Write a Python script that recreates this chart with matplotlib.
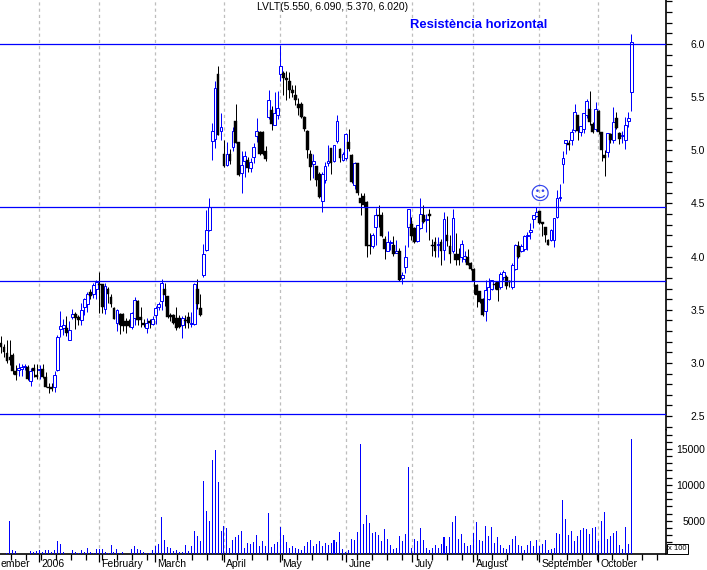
import numpy as np
import matplotlib
matplotlib.use('Agg')
import matplotlib.pyplot as plt

plt.rcParams['font.family'] = ['Liberation Sans', 'DejaVu Sans']

title = 'LVLT(5.550, 6.090, 5.370, 6.020)'
note = 'Resistència horizontal'

opens = [3.19,3.15,3.09,3.06,3.07,2.92,2.93,2.94,2.96,2.96,
         2.83,2.95,2.89,2.93,2.94,2.87,2.77,2.77,2.77,2.93,
         3.32,3.33,3.33,3.22,3.43,3.46,3.43,3.40,3.53,3.55,
         3.67,3.65,3.70,3.74,3.74,3.51,3.70,3.62,3.52,3.38,
         3.46,3.46,3.39,3.39,3.34,3.42,3.58,3.43,3.38,3.33,
         3.39,3.37,3.45,3.53,3.58,3.70,3.63,3.45,3.45,3.42,
         3.42,3.36,3.40,3.43,3.37,3.37,3.70,3.52,3.83,4.06,
         4.25,5.09,5.11,5.72,5.18,4.97,4.86,4.97,5.03,5.28,
         5.08,4.79,4.90,4.91,4.83,4.94,5.13,5.17,5.17,4.99,
         5.31,5.38,5.24,5.33,5.72,5.73,5.68,5.65,5.57,5.52,
         5.44,5.44,5.31,5.18,4.97,4.87,4.85,4.78,4.52,4.72,
         4.88,5.02,4.90,5.09,5.01,4.91,4.93,5.08,4.96,4.67,
         4.88,4.55,4.57,4.51,4.11,4.10,4.28,4.39,4.39,4.17,
         4.05,4.13,4.11,4.03,4.05,3.80,3.90,4.28,4.31,4.27,
         4.15,4.27,4.39,4.34,4.40,4.11,4.14,4.11,4.14,4.06,
         4.20,4.10,4.05,4.02,4.02,4.00,3.98,4.00,3.94,3.88,
         3.73,3.68,3.60,3.49,3.60,3.70,3.74,3.76,3.71,3.81,
         3.81,3.77,3.71,3.88,4.10,4.05,4.07,4.19,4.23,4.35,
         4.38,4.43,4.33,4.28,4.16,4.16,4.16,4.37,4.55,4.87,
         5.07,5.07,5.10,5.19,5.33,5.17,5.20,5.33,5.39,5.25,
         5.20,5.37,5.17,4.96,4.98,5.15,5.10,5.30,5.16,5.13,
         5.10,5.28,5.55]
highs = [3.25,3.18,3.22,3.22,3.09,2.98,3.00,2.99,2.99,2.98,
         2.95,2.99,2.99,2.98,2.99,2.91,2.81,2.81,2.92,3.26,
         3.49,3.41,3.44,3.39,3.51,3.48,3.45,3.56,3.61,3.67,
         3.70,3.75,3.78,3.86,3.74,3.75,3.71,3.65,3.53,3.51,
         3.47,3.47,3.42,3.41,3.48,3.62,3.59,3.53,3.41,3.42,
         3.41,3.44,3.54,3.57,3.79,3.75,3.63,3.47,3.46,3.53,
         3.45,3.44,3.45,3.48,3.48,3.75,3.79,3.65,4.12,4.44,
         4.55,5.26,5.65,5.79,5.35,5.10,5.08,5.01,5.22,5.44,
         5.08,4.99,4.99,4.94,4.93,5.07,5.30,5.18,5.18,5.04,
         5.57,5.42,5.55,5.56,5.99,5.75,5.75,5.74,5.61,5.61,
         5.49,5.45,5.32,5.19,5.00,4.97,4.85,4.80,4.80,4.89,
         5.05,5.02,5.05,5.33,5.02,4.98,5.16,5.20,4.97,4.89,
         4.88,4.60,4.60,4.52,4.22,4.22,4.46,4.49,4.42,4.19,
         4.24,4.16,4.19,4.16,4.08,3.86,4.11,4.45,4.37,4.28,
         4.30,4.55,4.49,4.40,4.45,4.17,4.18,4.18,4.17,4.42,
         4.38,4.20,4.45,4.22,4.08,4.16,4.05,4.07,3.95,3.89,
         3.74,3.68,3.61,3.78,3.80,3.78,3.76,3.77,3.86,3.87,
         3.83,3.78,3.94,4.12,4.15,4.12,4.20,4.23,4.32,4.39,
         4.47,4.43,4.33,4.28,4.17,4.26,4.36,4.63,4.68,4.99,
         5.10,5.10,5.20,5.44,5.33,5.23,5.35,5.48,5.56,5.27,
         5.45,5.38,5.17,5.00,5.16,5.16,5.41,5.36,5.17,5.18,
         5.31,5.36,6.09]
lows = [3.09,3.06,3.00,2.98,2.90,2.84,2.88,2.88,2.93,2.84,
        2.78,2.87,2.85,2.85,2.86,2.77,2.72,2.74,2.73,2.92,
        3.24,3.26,3.25,3.22,3.41,3.32,3.36,3.36,3.45,3.48,
        3.60,3.61,3.60,3.47,3.47,3.46,3.56,3.53,3.41,3.30,
        3.27,3.30,3.28,3.34,3.32,3.36,3.36,3.34,3.34,3.28,
        3.33,3.36,3.37,3.50,3.50,3.54,3.42,3.39,3.37,3.31,
        3.33,3.23,3.33,3.33,3.34,3.36,3.51,3.44,3.81,4.05,
        4.24,4.91,5.02,5.14,5.10,4.84,4.85,4.87,4.99,5.07,
        4.76,4.60,4.75,4.80,4.80,4.88,5.08,4.96,4.96,4.90,
        5.29,5.19,5.24,5.29,5.65,5.52,5.47,5.49,5.50,5.43,
        5.33,5.30,5.18,4.93,4.72,4.74,4.66,4.55,4.42,4.69,
        4.85,4.78,4.89,5.07,4.89,4.90,4.91,4.99,4.69,4.64,
        4.58,4.39,4.47,4.00,4.02,4.08,4.11,4.28,4.18,3.98,
        4.05,4.06,4.01,4.04,3.77,3.74,3.85,4.09,4.16,4.13,
        4.14,4.26,4.32,4.23,4.16,4.01,4.00,4.00,3.92,3.97,
        4.10,3.94,4.03,3.92,3.92,3.95,3.95,3.92,3.87,3.65,
        3.53,3.56,3.44,3.39,3.59,3.69,3.70,3.58,3.70,3.78,
        3.70,3.71,3.70,3.87,3.99,4.04,4.05,4.06,4.17,4.27,
        4.37,4.31,4.19,4.14,4.11,4.15,4.09,4.36,4.52,4.69,
        4.97,5.00,5.05,5.17,5.10,5.13,5.16,5.30,5.24,5.16,
        5.18,5.15,4.90,4.76,4.94,5.07,5.07,5.20,5.06,5.07,
        5.01,5.22,5.37]
closes = [3.15,3.10,3.02,3.03,2.92,2.89,2.95,2.96,2.97,2.85,
          2.92,2.92,2.87,2.94,2.87,2.77,2.765,2.75,2.89,3.24,
          3.35,3.36,3.28,3.31,3.46,3.42,3.40,3.50,3.60,3.65,
          3.63,3.73,3.76,3.73,3.53,3.72,3.65,3.55,3.41,3.50,
          3.36,3.35,3.35,3.35,3.47,3.59,3.40,3.40,3.36,3.38,
          3.38,3.41,3.52,3.55,3.75,3.64,3.43,3.43,3.38,3.33,
          3.34,3.42,3.39,3.38,3.38,3.74,3.55,3.45,4.02,4.25,
          4.47,5.18,5.59,5.14,5.22,4.85,4.97,4.90,5.18,5.07,
          4.77,4.86,4.95,4.83,4.89,5.03,5.18,4.97,4.97,4.92,
          5.47,5.25,5.35,5.40,5.79,5.68,5.66,5.57,5.54,5.47,
          5.40,5.31,5.20,5.00,4.84,4.90,4.72,4.56,4.78,4.85,
          4.90,4.88,5.05,5.28,4.93,4.97,5.15,5.01,4.70,4.88,
          4.60,4.50,4.49,4.10,4.10,4.20,4.39,4.38,4.19,4.07,
          4.14,4.14,4.02,4.05,3.78,3.83,4.00,4.45,4.19,4.14,
          4.30,4.40,4.33,4.35,4.38,4.10,4.05,4.12,4.05,4.35,
          4.15,4.02,4.36,3.97,3.97,4.12,4.01,3.92,3.88,3.77,
          3.64,3.57,3.45,3.69,3.71,3.78,3.73,3.69,3.84,3.86,
          3.72,3.76,3.92,4.11,4.00,4.10,4.19,4.20,4.25,4.39,
          4.42,4.32,4.31,4.20,4.11,4.25,4.36,4.55,4.56,4.93,
          5.10,5.05,5.17,5.36,5.18,5.23,5.35,5.46,5.27,5.17,
          5.39,5.17,5.00,4.93,5.16,5.10,5.27,5.21,5.11,5.14,
          5.24,5.30,6.02]
volumes = [400,400,510,5000,925,790,350,350,350,350,
           720,580,790,925,580,925,925,580,925,2180,
           1760,690,350,350,925,650,510,925,650,1200,
           650,510,1070,1020,1070,650,510,1620,650,1070,
           510,650,350,350,1070,1480,1070,925,650,510,
           510,925,1480,1760,5510,2320,1340,1200,790,925,
           650,650,1620,790,1480,3570,2870,2180,10510,6340,
           4950,13430,14820,10370,3570,4260,3980,1200,2320,2730,
           3010,3570,1200,1900,1760,2040,3010,1480,2180,1480,
           6070,1340,1760,2040,4120,3010,2040,1200,1480,1200,
           1070,925,1480,2040,2320,1480,1760,2180,1480,1900,
           1620,1900,2320,2040,3430,1070,650,925,2450,2320,
           3430,15650,4540,5790,4680,3290,3430,3010,2180,3840,
           2450,1620,1070,1200,2870,2180,3150,12450,1200,2450,
           2180,3980,2320,1200,925,1200,1620,1200,1760,2730,
           1480,2730,4820,5650,2450,3150,1900,1480,1620,3290,
           4820,2320,2180,4260,2870,4120,1900,2730,1620,1200,
           1070,1620,2450,2870,1620,1480,925,1620,2180,1480,
           2320,1480,1760,2320,925,1070,1200,3290,3150,7870,
           5230,3010,3570,2180,2870,3700,3980,3840,3150,4000,
           4120,2180,4950,6200,2450,2870,3290,3570,1620,1070,
           4120,1760,16340]

month_names = ['ember', '2006', 'February', 'March', 'April', 'May', 'June',
               'July', 'August', 'September', 'October']
month_pos = [-1.0, 12.8, 32.9, 51.8, 75.0, 93.9, 116.1, 138.3, 158.8, 181.0, 200.8]
level_prices = [6.0, 4.47, 3.77, 2.52]

blue = '#0000ff'
x = np.arange(len(closes))
o, h, l, c = map(np.array, (opens, highs, lows, closes))
up = c >= o

fig = plt.figure(figsize=(7.07, 5.70), dpi=100)
ax = fig.add_axes([0, 1 - 430 / 570, 665.5 / 707, 430 / 570])
ax2 = fig.add_axes([0, 1 - 554.3 / 570, 665.5 / 707, 124.3 / 570])

# velas
ax.vlines(x[up], l[up], h[up], color=blue, lw=0.72, zorder=3)
ax.vlines(x[~up], l[~up], h[~up], color='black', lw=0.72, zorder=3)
ax.bar(x[up], (c - o)[up], bottom=o[up], width=0.95, facecolor='white',
       edgecolor=blue, linewidth=0.72, zorder=4)
ax.bar(x[~up], (c - o)[~up], bottom=o[~up], width=0.95, facecolor='black',
       edgecolor='black', linewidth=0.3, zorder=4)
for p in level_prices:
    ax.axhline(p, color=blue, lw=0.9, zorder=5)
ax.set_xlim(-0.34, 223.5)
ax.set_ylim(2.369, 6.414)

# volume
ax2.bar(x, volumes, width=0.34, color=blue, linewidth=0, zorder=3, antialiased=False)
ax2.set_xlim(-0.34, 223.5)
ax2.set_ylim(320, 17630)

for a in (ax, ax2):
    for s in ('top', 'left', 'bottom'):
        a.spines[s].set_visible(False)
    a.spines['right'].set_linewidth(1.2)
    a.yaxis.tick_right()
    a.set_xticks([])
    for m in month_pos[1:]:
        a.axvline(m, color='#bdbdbd', lw=0.9, ls=(0, (2.5, 2.5)), zorder=1)
    a.tick_params(axis='y', which='both', length=4, width=0.9, pad=24.5,
                  labelsize=7.5, colors='black')

ax.set_yticks([2.5, 3.0, 3.5, 4.0, 4.5, 5.0, 5.5, 6.0])
ax.set_yticks(np.arange(2.4, 6.41, 0.1), minor=True)
ax.set_yticklabels(['2.5', '3.0', '3.5', '4.0', '4.5', '5.0', '5.5', '6.0'], ha='right')
ax2.set_yticks([5000, 10000, 15000])
ax2.set_yticks(np.arange(1000, 17001, 1000), minor=True)
ax2.set_yticklabels(['5000', '10000', '15000'], ha='right')

ax2.spines['bottom'].set_visible(True)
ax2.spines['bottom'].set_linewidth(1.2)
ax2.set_xticks(month_pos[1:])
ax2.set_xticklabels([])
ax2.set_xticks(np.arange(3.5, 223, 5.05), minor=True)
ax2.tick_params(axis='x', which='major', length=6, width=0.9)
ax2.tick_params(axis='x', which='minor', length=4, width=0.9)

for pos, name in zip(month_pos, month_names):
    ax2.text(pos + 0.8, -0.105, name, transform=ax2.get_xaxis_transform(),
             fontsize=7.5, ha='left', va='baseline')

fig.text(333 / 707, 1 - 7 / 570, title, fontsize=7.5, ha='center', va='center')
fig.text(478.5 / 707, 1 - 25 / 570, note, fontsize=9.4, fontweight='bold', color=blue,
         ha='center', va='center')
ax.text(181, 4.59, '\u263a', family='DejaVu Sans', fontsize=14, color='#3344ee',
        ha='center', va='center', zorder=6)
fig.text(677.5 / 707, 1 - 549 / 570, 'x 100', fontsize=5.5, ha='center', va='center',
         bbox=dict(facecolor='white', edgecolor='black', linewidth=0.7, pad=1))

fig.savefig('out.png', dpi=100)
